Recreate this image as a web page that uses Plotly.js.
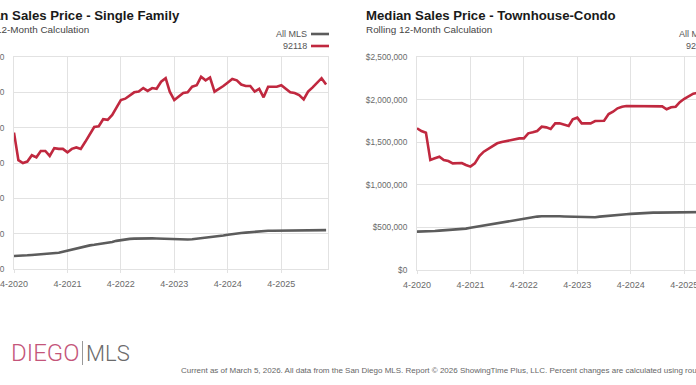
<!DOCTYPE html>
<html>
<head>
<meta charset="utf-8">
<script src="https://cdn.plot.ly/plotly-3.0.1.min.js"></script>
<style>
  html, body { margin: 0; padding: 0; width: 696px; height: 385px; overflow: hidden; background: #fff; }
  #chart { position: absolute; left: -100px; top: 0; width: 900px; height: 385px; }
</style>
</head>
<body>
<div id="chart"></div>
<script>
// ---- data (rolling 12-month median sales price, Apr 2020 - Feb 2026) ----
const startYear = 2020, startMonth = 4, monthCount = 71;
const tickLabels = ['4-2020', '4-2021', '4-2022', '4-2023', '4-2024', '4-2025'];
const tickDates = ['2020-04-01', '2021-04-01', '2022-04-01', '2023-04-01', '2024-04-01', '2025-04-01'];
const seriesNames = ['All MLS', '92118'];

// Single Family, in thousands of dollars
const sfAllMLS = [684, 684, 688, 694, 699, 704, 708, 712, 716, 720, 730, 744, 759, 775, 795, 812, 825, 834, 842, 850,
  860, 868, 882, 898, 910, 920, 926, 930, 933, 935, 935, 934, 931, 928, 925, 921, 918, 916, 915, 917,
  922, 928, 934, 940, 946, 952, 962, 974, 985, 995, 1004, 1010, 1015, 1022, 1030, 1036, 1040, 1042, 1042, 1042,
  1041, 1040, 1040, 1040, 1040, 1040, 1041, 1042, 1044, 1047, 1050];
const sf92118 = [2430, 2040, 2000, 2020, 2110, 2080, 2170, 2170, 2100, 2210, 2200, 2200, 2150, 2200, 2220, 2200, 2300, 2400, 2510, 2520,
  2620, 2610, 2680, 2780, 2890, 2910, 2960, 3000, 3010, 3060, 3020, 3060, 3050, 3150, 3200, 3010, 2890, 2940, 2990, 3000,
  3080, 3100, 3220, 3170, 3210, 3010, 3050, 3090, 3140, 3190, 3170, 3110, 3090, 3090, 3010, 3050, 2930, 3080, 3080, 3080,
  3100, 3050, 3000, 2990, 2960, 2900, 3010, 3070, 3140, 3200, 3110];

// Townhouse-Condo, in thousands of dollars
const tcAllMLS = [450, 450, 452, 455, 458, 462, 465, 467, 469, 472, 478, 486, 495, 504, 513, 522, 530, 538, 546, 556,
  566, 577, 588, 598, 607, 616, 623, 627, 630, 632, 633, 632, 630, 628, 626, 624, 622, 620, 618, 617,
  620, 626, 632, 638, 644, 649, 652, 655, 659, 663, 667, 670, 672, 673, 674, 675, 676, 677, 677, 677,
  677, 678, 679, 680, 680, 681, 681, 682, 682, 683, 684];
const tc92118 = [1663, 1631, 1612, 1291, 1311, 1330, 1291, 1279, 1252, 1252, 1256, 1232, 1213, 1252, 1338, 1389, 1420, 1455, 1487, 1502,
  1514, 1518, 1534, 1545, 1545, 1604, 1616, 1631, 1682, 1674, 1655, 1721, 1721, 1702, 1690, 1768, 1788, 1721, 1721, 1721,
  1749, 1749, 1752, 1831, 1858, 1898, 1917, 1925, 1925, 1925, 1922, 1925, 1922, 1925, 1925, 1920, 1886, 1910, 1917, 1970,
  2010, 2035, 2070, 2080, 2050, 2090, 2110, 2100, 2130, 2150, 2120];

// ---- build ----
const months = [];
for (let i = 0; i < monthCount; i++) {
  const m0 = startMonth - 1 + i;
  const y = startYear + Math.floor(m0 / 12);
  const mo = (m0 % 12) + 1;
  months.push(y + '-' + String(mo).padStart(2, '0') + '-01');
}
const toDollars = a => a.map(v => v * 1000);

const RED = '#c0283f', GRAY = '#5c5c5c';
const SANS = '"Liberation Sans", Arial, sans-serif';
const W = 900, H = 385;
const px = x => x / W;          // div x -> paper
const py = y => (H - y) / H;    // div y -> paper

function line(x, y, color, xa, ya, name) {
  return { x: x, y: y, type: 'scatter', mode: 'lines', name: name, xaxis: xa, yaxis: ya,
    line: { color: color, width: 2.6 }, showlegend: false, hoverinfo: 'skip' };
}

const data = [
  line(months, toDollars(sfAllMLS), GRAY, 'x', 'y', seriesNames[0]),
  line(months, toDollars(sf92118), RED, 'x', 'y', seriesNames[1]),
  line(months, toDollars(tcAllMLS), GRAY, 'x2', 'y2', seriesNames[0]),
  line(months, toDollars(tc92118), RED, 'x2', 'y2', seriesNames[1])
];

function xaxis(domain, anchor) {
  return {
    domain: domain, anchor: anchor, type: 'date',
    range: ['2020-04-01', '2026-02-14'],
    tickmode: 'array', tickvals: tickDates, ticktext: tickLabels,
    showgrid: true, gridcolor: '#e2e2e2', gridwidth: 1,
    showline: true, mirror: true, linecolor: '#e2e2e2', linewidth: 1,
    ticks: 'outside', ticklen: 3, tickcolor: '#e2e2e2', ticklabelstandoff: 3,
    tickfont: { family: SANS, size: 9, color: '#6a6a6a' },
    zeroline: false, fixedrange: true
  };
}
function yaxis(domain, anchor, range) {
  return {
    domain: domain, anchor: anchor, range: range, dtick: 500000, tick0: 0,
    tickformat: '$,.0f',
    showgrid: true, gridcolor: '#e2e2e2', gridwidth: 1,
    showline: true, mirror: true, linecolor: '#e2e2e2', linewidth: 1,
    ticks: '', ticklabelstandoff: 7,
    tickfont: { family: SANS, size: 8.3, color: '#6a6a6a' },
    zeroline: false, fixedrange: true
  };
}

// geometry (div coordinates; viewport x = div x - 100)
const L = [114, 428], R = [517, 831];
const layout = {
  width: W, height: H,
  margin: { l: 0, r: 0, t: 0, b: 0 },
  paper_bgcolor: '#fff', plot_bgcolor: '#fff',
  showlegend: false,
  xaxis: xaxis([px(L[0]), px(L[1])], 'y'),
  yaxis: yaxis([py(269), py(57)], 'x', [500000, 3500000]),
  xaxis2: xaxis([px(R[0]), px(R[1])], 'y2'),
  yaxis2: yaxis([py(270), py(57)], 'x2', [0, 2500000]),
  annotations: [],
  shapes: []
};

function addPanelText(plotLeft, plotRight, title) {
  const tx = plotLeft - 53;
  layout.annotations.push(
    { xref: 'paper', yref: 'paper', x: px(tx), y: py(15), xanchor: 'left', yanchor: 'middle', showarrow: false,
      text: title, font: { family: SANS, size: 13.2, color: '#1a1a1a', weight: 'bold' } },
    { xref: 'paper', yref: 'paper', x: px(tx), y: py(29), xanchor: 'left', yanchor: 'middle', showarrow: false,
      text: 'Rolling 12-Month Calculation', font: { family: SANS, size: 9.9, color: '#444' } }
  );
  const textRight = plotRight - 20;
  [[34, seriesNames[0], GRAY], [46, seriesNames[1], RED]].forEach(([yy, name, col]) => {
    layout.annotations.push({ xref: 'paper', yref: 'paper', x: px(textRight + 1), y: py(yy), xanchor: 'right', yanchor: 'middle',
      showarrow: false, text: name, font: { family: SANS, size: 9, color: '#555' } });
    layout.shapes.push({ type: 'line', xref: 'paper', yref: 'paper', x0: px(textRight + 3), x1: px(plotRight + 1),
      y0: py(yy), y1: py(yy), line: { color: col, width: 2.6 } });
  });
}
addPanelText(L[0], L[1], 'Median Sales Price - Single Family');
addPanelText(R[0], R[1], 'Median Sales Price - Townhouse-Condo');

// logo + footer
layout.annotations.push(
  { xref: 'paper', yref: 'paper', x: px(96), y: py(353), xanchor: 'right', yanchor: 'middle', showarrow: false,
    text: 'SAN', font: { family: 'Roboto, sans-serif', size: 24, color: '#c4557a', weight: 300 } },
  { xref: 'paper', yref: 'paper', x: px(181), y: py(353), xanchor: 'right', yanchor: 'middle', showarrow: false,
    text: 'DIEGO', font: { family: 'Roboto, sans-serif', size: 24, color: '#c4557a', weight: 300 } },
  { xref: 'paper', yref: 'paper', x: px(184), y: py(353), xanchor: 'left', yanchor: 'middle', showarrow: false,
    text: 'MLS', font: { family: 'Roboto, sans-serif', size: 22, color: '#6b6b6b', weight: 300 } },
  { xref: 'paper', yref: 'paper', x: px(279), y: py(370), xanchor: 'left', yanchor: 'middle', showarrow: false,
    text: 'Current as of March 5, 2026. All data from the San Diego MLS. Report © 2026 ShowingTime Plus, LLC. Percent changes are calculated using rounded figures.',
    font: { family: SANS, size: 8, color: '#666' } }
);
layout.shapes.push({ type: 'line', xref: 'paper', yref: 'paper', x0: px(182.5), x1: px(182.5), y0: py(341), y1: py(365),
  line: { color: '#999', width: 1 } });

Plotly.newPlot('chart', data, layout, { staticPlot: true, displayModeBar: false });
</script>
</body>
</html>
